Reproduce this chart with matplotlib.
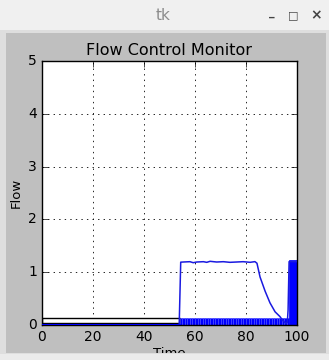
import numpy as np
import matplotlib
matplotlib.use("Agg")
import matplotlib.pyplot as plt
from matplotlib.patches import Rectangle
from matplotlib.transforms import Bbox, TransformedBbox

plt.style.use('classic')

W, H = 329, 360

# flow line
flow_t = [0, 53.8, 54.4, 55.4, 58.0, 59.3, 60.7, 63.3, 64.6, 65.9, 68.5, 71.1,
          73.7, 76.3, 78.9, 81.6, 83.5, 84.3, 85.5, 87.5, 89.4, 91.4, 93.3,
          94.5, 95.7, 96.2, 96.5, 96.9, 100]
flow_v = [0, 0, 1.19, 1.193, 1.199, 1.18, 1.193, 1.199, 1.187, 1.206, 1.193,
          1.199, 1.187, 1.193, 1.199, 1.187, 1.2, 1.17, 0.91, 0.64, 0.42, 0.25,
          0.16, 0.08, 0.03, 0.05, 0.28, 1.2, 1.2]

# valve bars
open_t = list(range(54, 97))
open_h = [0.13] * len(open_t)
burst_start, burst_len, burst_h = 97, 3, 1.23
closed_span = (0, 54)
closed_box = (0.03, 0.14)


def fx(px):
    return px / W


def fy(py):
    return 1 - py / H


fig = plt.figure(figsize=(W / 100, H / 100), dpi=100, facecolor='#dedede')

# window chrome
fig.add_artist(Rectangle((0, fy(30)), 1, 30 / H, transform=fig.transFigure,
                         facecolor='#f0f0f0', edgecolor='none', zorder=-10))
fig.add_artist(Rectangle((0, 0), 1, 6 / H, transform=fig.transFigure,
                         facecolor='#ebebeb', edgecolor='none', zorder=-10))
canvas = Rectangle((fx(6), fy(353)), 320 / W, 320 / H, transform=fig.transFigure,
                   facecolor='#bfbfbf', edgecolor='none', zorder=-5)
fig.add_artist(canvas)
fig.text(fx(163), fy(15), 'tk', color='#8c8c8c', fontsize=11,
         ha='center', va='center')
fig.text(fx(272), fy(13), '_', color='#444444', fontsize=8, fontweight='bold',
         ha='center', va='center')
fig.text(fx(293), fy(15), '\u25a1', color='#444444', fontsize=8,
         ha='center', va='center')
fig.text(fx(316), fy(15), '\u00d7', color='#444444', fontsize=10,
         fontweight='bold', ha='center', va='center')

ax = fig.add_axes([fx(42), fy(325), 255 / W, 264 / H])
ax.set_axisbelow(True)

ax.bar(closed_span[0], closed_box[1] - closed_box[0], bottom=closed_box[0],
       width=closed_span[1] - closed_span[0], align='edge',
       facecolor='white', edgecolor='black', linewidth=1.0, zorder=2)
ax.bar(open_t, open_h, width=1, align='edge', facecolor='#0000ff',
       edgecolor='#4a4aff', linewidth=0.5, zorder=2)
ax.bar(burst_start, burst_h, width=burst_len, align='edge', facecolor='#0000ff',
       edgecolor='#0000ff', linewidth=0.5, zorder=2)
ax.plot(flow_t, flow_v, color='#1a1ae0', linewidth=1.1, zorder=3)
ax.plot(flow_t[:2], flow_v[:2], color='#0000ff', linewidth=2.2, zorder=3)

ax.set_xlim(0, 100)
ax.set_ylim(0, 5)
ax.set_xticks([0, 20, 40, 60, 80, 100])
ax.set_yticks([0, 1, 2, 3, 4, 5])
ax.grid(True, linestyle=':', color='black', linewidth=0.6)
ax.tick_params(labelsize=10, pad=3.5, length=4, direction='in')
ax.set_title('Flow Control Monitor', fontsize=11.5, pad=4)
ax.set_ylabel('Flow', fontsize=9.5, labelpad=4)
xl = ax.set_xlabel('Time', fontsize=9.5, labelpad=2)
xl.set_clip_box(TransformedBbox(Bbox.from_extents(fx(6), fy(353), fx(326), fy(33)),
                                fig.transFigure))

fig.savefig('out.png', dpi=100, facecolor=fig.get_facecolor())
